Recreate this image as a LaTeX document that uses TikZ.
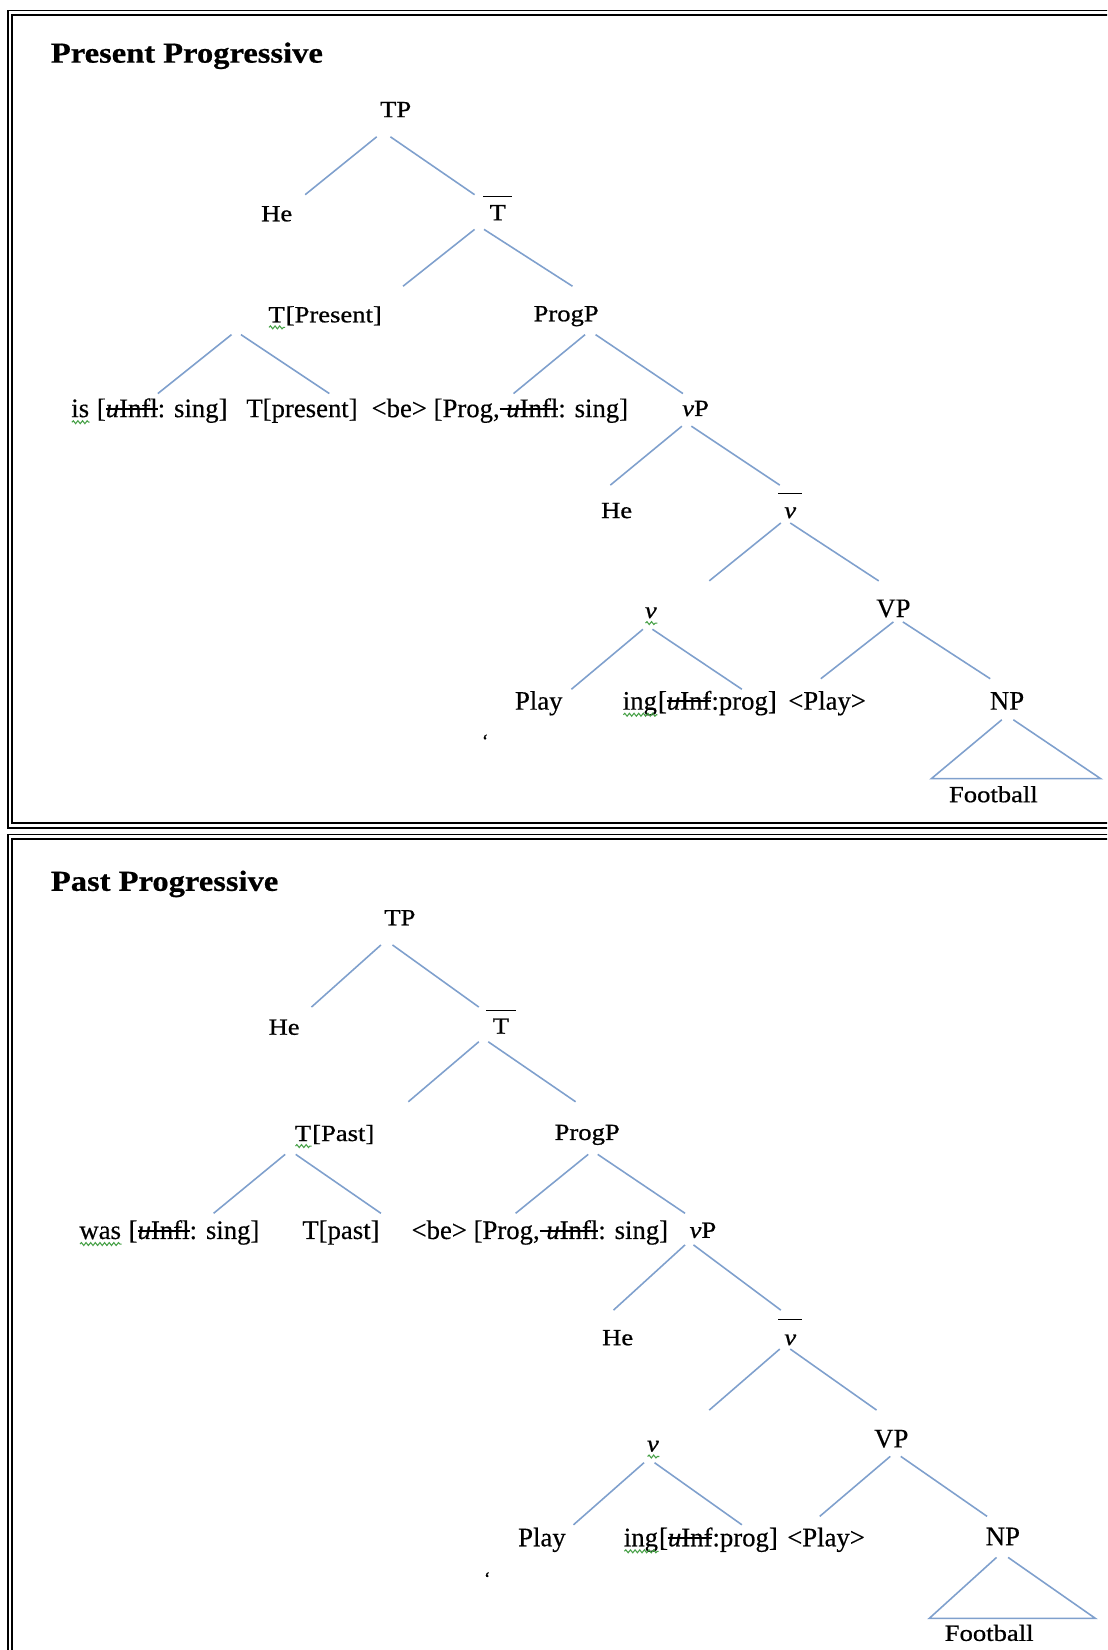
\documentclass[tikz,border=0pt]{standalone}
\usepackage{fontspec}
\setmainfont{Liberation Serif}[FakeBold=0.4]
\newfontfamily\widefont[FakeStretch=1.15,FakeBold=0.8]{Liberation Serif}
\newfontfamily\titlefont[FakeStretch=1.12,FakeBold=0.6]{Liberation Serif}
\usetikzlibrary{calc,decorations.pathmorphing}
\definecolor{branch}{RGB}{127,160,205}
\definecolor{spellc}{RGB}{70,160,70}
\newsavebox\wvbox
\newsavebox\stbox
% green wavy underline (spell-check mark)
\newcommand\wavy[1]{\sbox\wvbox{#1}\rlap{\usebox\wvbox}\tikz[baseline=0pt]\path[draw=spellc,line width=0.5pt,decorate,decoration={snake,amplitude=0.7pt,segment length=2.2pt}] (0pt,-2.4pt) -- (\wd\wvbox,-2.4pt);}
% struck-out feature
\newcommand\strk[1]{\sbox\stbox{#1}\rlap{\usebox\stbox}\rule[0.28em]{\wd\stbox}{0.065em}}
% branch between two nodes, with offsets from their centres
\newcommand\br[6]{\draw[brl] ($(#1)+(#2,#3)$) -- ($(#4)+(#5,#6)$);}
\newcommand\barover[3]{\draw[barl] ($(#1)+(-#2,-#3)$) -- ($(#1)+(#2,-#3)$);}

\begin{document}
\begin{tikzpicture}[x=0.5pt,y=-0.5pt,
  lbl/.style={inner sep=0pt,anchor=center,text depth=0pt},
  wd/.style={lbl,text height=7.3pt,font=\widefont\fontsize{11}{13}\selectfont},
  tm/.style={lbl,text height=8.4pt,font=\fontsize{12.7}{15}\selectfont},
  ttl/.style={inner sep=0pt,anchor=west,font=\titlefont\bfseries\fontsize{13.8}{16}\selectfont},
  brl/.style={draw=branch,line width=0.75pt},
  barl/.style={draw=black,line width=0.65pt},
  fo/.style={draw=black,line width=0.9pt},
  tick/.style={inner sep=0pt,font=\fontsize{9}{9}\selectfont}]
\useasboundingbox (0,0) rectangle (1052,1568);
\clip (0,0) rectangle (1052,1568);

% double frames
\draw[fo] (1070,10) -- (7.5,10) -- (7.5,787) -- (1070,787);
\draw[fo] (1070,14) -- (11.5,14) -- (11.5,782.5) -- (1070,782.5);
\draw[fo] (7.5,1600) -- (7.5,793) -- (1070,793);
\draw[fo] (11.5,1600) -- (11.5,797) -- (1070,797);

% ---------- Present Progressive ----------
\node[ttl] (t1) at (48,53) {Present Progressive};
\node[wd] (a1) at (376,104) {TP};
\node[wd] (a2) at (263,203) {He};
\node[wd] (a3) at (473,202) {T};
\node[wd] (a4) at (309,299) {\wavy{T}[Present]};
\node[wd] (a5) at (538,298) {ProgP};
\node[tm] (a6) at (142,388) {\wavy{is} [\strk{\textit{u}Infl}: sing]};
\node[tm] (a7) at (287,388) {T[present]};
\node[tm] (a8) at (475,388) {<be> [Prog,\strk{ \textit{u}Infl}: sing]};
\node[wd] (a9) at (661,388) {\textit{v}P};
\node[wd] (a10) at (586,485) {He};
\node[wd] (a11) at (751,485) {\textit{v}};
\node[wd] (a12) at (619,580) {\wavy{\textit{v}}};
\node[tm] (a13) at (849,578) {VP};
\node[tm] (a14) at (512,666) {Play};
\node[tm] (a15) at (665,666) {\wavy{ing}[\strk{\textit{u}Inf}:prog]};
\node[tm] (a16) at (786,666) {<Play>};
\node[tm] (a17) at (957,666) {NP};
\node[wd] (a18) at (944,755) {Football};
\node[tick] (k1) at (461,704) {`};

\barover{a3}{14}{15}
\barover{a11}{11.5}{16}

\br{a1}{-18}{26}{a2}{27}{-18}
\br{a1}{-5}{26}{a3}{-22}{-17}
\br{a3}{-22}{16}{a4}{74}{-27}
\br{a3}{-13}{16}{a5}{6}{-26}
\br{a4}{-89}{19}{a6}{8}{-14}
\br{a4}{-80}{19}{a7}{26}{-14}
\br{a5}{18}{20}{a8}{13}{-14}
\br{a5}{28}{20}{a9}{-12}{-14}
\br{a9}{-13}{17}{a10}{-6}{-24}
\br{a9}{-4}{17}{a11}{-10}{-24}
\br{a11}{-9}{12}{a12}{55}{-28}
\br{a11}{0}{12}{a13}{-14}{-26}
\br{a12}{-8}{18}{a14}{31}{-11}
\br{a12}{1}{18}{a15}{40}{-11}
\br{a13}{0}{13}{a16}{-6}{-21}
\br{a13}{9}{13}{a17}{-16}{-21}
% roof over the NP
\draw[brl] ($(a17)+(-5,18)$) -- ($(a18)+(-59,-15)$) -- ($(a18)+(102,-15)$) -- ($(a17)+(6,18)$);

% ---------- Past Progressive ----------
\node[ttl] (t2) at (48,840) {Past Progressive};
\node[wd] (b1) at (380,872) {TP};
\node[wd] (b2) at (270,976) {He};
\node[wd] (b3) at (476,975) {T};
\node[wd] (b4) at (318,1077) {\wavy{T}[Past]};
\node[wd] (b5) at (558,1076) {ProgP};
\node[tm] (b6) at (161,1169) {\wavy{was} [\strk{\textit{u}Infl}: sing]};
\node[tm] (b7) at (324,1169) {T[past]};
\node[tm] (b8) at (513,1169) {<be> [Prog,\strk{ \textit{u}Infl}: sing]};
\node[wd] (b9) at (668,1169) {\textit{v}P};
\node[wd] (b10) at (587,1271) {He};
\node[wd] (b11) at (751,1271) {\textit{v}};
\node[wd] (b12) at (621,1372) {\wavy{\textit{v}}};
\node[tm] (b13) at (847,1367) {VP};
\node[tm] (b14) at (515,1461) {Play};
\node[tm] (b15) at (666,1461) {\wavy{ing}[\strk{\textit{u}Inf}:prog]};
\node[tm] (b16) at (785,1461) {<Play>};
\node[tm] (b17) at (953,1460) {NP};
\node[wd] (b18) at (940,1552) {Football};
\node[tick] (k2) at (463,1500) {`};

\barover{b3}{14}{15}
\barover{b11}{11.5}{17}

\br{b1}{-18}{26}{b2}{26}{-19}
\br{b1}{-7}{26}{b3}{-21}{-18}
\br{b3}{-21}{15}{b4}{70}{-30}
\br{b3}{-12}{15}{b5}{-11}{-29}
\br{b4}{-47}{20}{b6}{42}{-16}
\br{b4}{-37}{20}{b7}{38}{-16}
\br{b5}{1}{21}{b8}{-23}{-16}
\br{b5}{10}{21}{b9}{-17}{-16}
\br{b9}{-17}{14}{b10}{-4}{-26}
\br{b9}{-9}{14}{b11}{-9}{-26}
\br{b11}{-10}{11}{b12}{53}{-32}
\br{b11}{0}{11}{b13}{-14}{-27}
\br{b12}{-9}{18}{b14}{30}{-12}
\br{b12}{1}{18}{b15}{39}{-12}
\br{b13}{-1}{17}{b16}{-6}{-20}
\br{b13}{9}{17}{b17}{-15}{-19}
% roof over the NP
\draw[brl] ($(b17)+(-6,20)$) -- ($(b18)+(-57,-14)$) -- ($(b18)+(101,-14)$) -- ($(b17)+(5,20)$);
\end{tikzpicture}
\end{document}
